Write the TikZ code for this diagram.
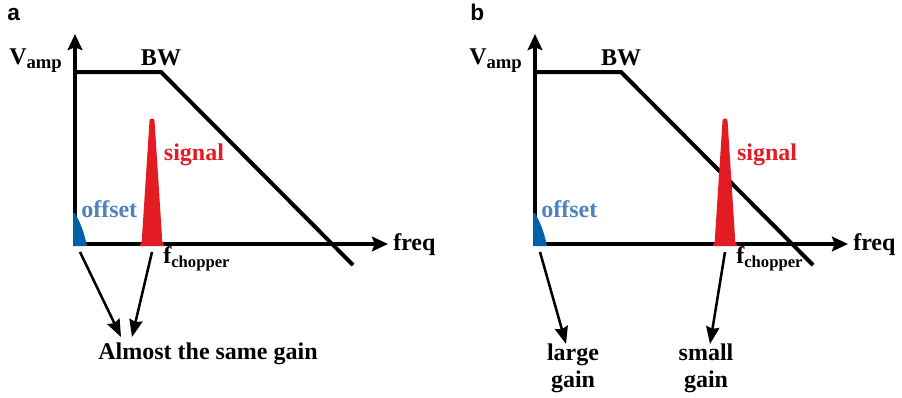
\documentclass[tikz,border=0pt]{standalone}
\usepackage{fontspec}
\setmainfont{Liberation Serif}
\newfontfamily\panelfont{Liberation Sans}
\usetikzlibrary{arrows.meta}
\definecolor{sigred}{RGB}{227,27,35}
\definecolor{offblue}{RGB}{0,96,170}
\definecolor{offtext}{RGB}{79,129,189}
\newcommand{\lowsub}[2]{\raisebox{-3pt}{\fontsize{#1}{#1}\selectfont #2}}
\tikzset{
  axis/.style={line width=3pt,{Stealth[length=12pt,width=11pt,inset=2pt]}-{Stealth[length=12pt,width=11pt,inset=2pt]}},
  curve/.style={line width=3pt},
  pointer/.style={line width=1.9pt,-{Stealth[length=13pt,width=10pt,inset=1.5pt]}},
  lbl/.style={font=\fontsize{18}{20}\selectfont\bfseries,inner sep=0pt},
  panel/.style={font=\fontsize{17}{20}\selectfont\panelfont\bfseries,inner sep=0pt,anchor=base west},
}
\begin{document}
\begin{tikzpicture}[x=0.75pt,y=-0.75pt]
  \useasboundingbox (0,0) rectangle (902,397);
  \node[panel] (pa) at (7,20) {a};
  \node[panel] (pb) at (470,20) {b};
  % the two panels only differ in where the signal sits
  \foreach \p/\dx/\s in {a/0/152,b/460/265}{
  \begin{scope}[shift={(\dx,0)},name prefix=\p-]
    \coordinate (origin) at (75,244);
    \coordinate (top) at (75,34);
    \coordinate (right) at (388,244);
    \coordinate (flat) at (75,72);
    \coordinate (corner) at (161,72);
    \coordinate (end) at (353,265);
    \coordinate (offfoot) at (80,252);
    \coordinate (sigfoot) at (\s,252);
    \draw[axis] (top) -- (origin) -- (right);
    \draw[curve] (flat) -- (corner) -- (end);
    \fill[offblue] (73,246) -- (73,213) -- (75,213) to[bend left=8] (87,246) -- cycle;
    \fill[sigred] (\s-12.5,246) .. controls (\s-10,242) .. (\s-9.8,234)
      -- (\s-2.5,121) arc (180:0:1.9pt) -- (\s+9.8,234)
      .. controls (\s+10,242) .. (\s+12.5,246) -- cycle;
    \node[lbl,anchor=base west] (vamp) at (9,64) {V\lowsub{14}{amp}};
    \node[lbl,anchor=base] (bw) at (161,65) {BW};
    \node[lbl,anchor=base,text=sigred] (signal) at (\s+42,160) {signal};
    \node[lbl,anchor=base west,text=offtext] (offset) at (81,217) {offset};
    \node[lbl,anchor=base west] (freq) at (393,250) {freq};
    \node[lbl,anchor=base west] (fchop) at (\s+11,263) {f\lowsub{12.5}{chopper}};
  \end{scope}
  }
  % panel a
  \node[lbl,anchor=base] (same) at (208,359) {Almost the same gain};
  \coordinate (tipl) at (121,337);
  \coordinate (tipr) at (132,337);
  \draw[pointer] (a-offfoot) -- (tipl);
  \draw[pointer] (a-sigfoot) -- (tipr);
  % panel b
  \node[lbl,align=center,anchor=north] (large) at (573,344) {large\\gain};
  \node[lbl,align=center,anchor=north] (small) at (706,344) {small\\gain};
  \draw[pointer] (b-offfoot) -- (large);
  \draw[pointer] (b-sigfoot) -- (small);
\end{tikzpicture}
\end{document}
